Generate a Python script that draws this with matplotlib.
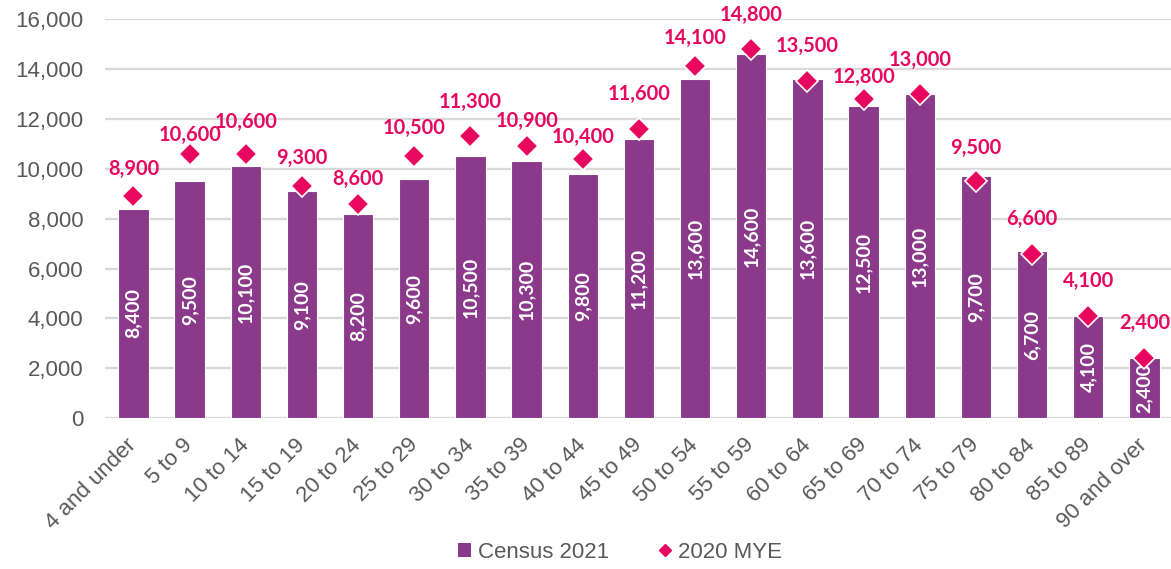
import matplotlib
matplotlib.use("Agg")
import matplotlib.pyplot as plt
from matplotlib.lines import Line2D
from matplotlib.patches import Patch
import numpy as np

categories = ["4 and under", "5 to 9", "10 to 14", "15 to 19", "20 to 24", "25 to 29",
              "30 to 34", "35 to 39", "40 to 44", "45 to 49", "50 to 54", "55 to 59",
              "60 to 64", "65 to 69", "70 to 74", "75 to 79", "80 to 84", "85 to 89",
              "90 and over"]
census_2021 = [8400, 9500, 10100, 9100, 8200, 9600, 10500, 10300, 9800, 11200,
               13600, 14600, 13600, 12500, 13000, 9700, 6700, 4100, 2400]
mye_2020 = [8900, 10600, 10600, 9300, 8600, 10500, 11300, 10900, 10400, 11600,
            14100, 14800, 13500, 12800, 13000, 9500, 6600, 4100, 2400]
yticks = [0, 2000, 4000, 6000, 8000, 10000, 12000, 14000, 16000]

# label offsets above the markers (style, in pixels), as placed in the original
label_offsets_px = [27, 19, 32, 28, 25, 28, 34, 25, 22, 35, 28, 34, 35, 22, 34, 33, 35, 35, 35]

BAR = "#8B3A8B"
PINK = "#E8075F"
GREY = "#595959"

W, H = 1171, 569
fig = plt.figure(figsize=(W / 100, H / 100), dpi=100)
left_px, right_px = 105.4, 1171
ax = fig.add_axes([left_px / W, (H - 418.3) / H, (right_px - left_px) / W, (418.3 - 19) / H])

x = np.arange(len(categories))
ax.bar(x, census_2021, width=0.54, color=BAR, edgecolor="white", linewidth=0.8, zorder=2)
ax.plot(x, mye_2020, linestyle="none", marker="D", markersize=11, color=PINK,
        markeredgecolor="white", markeredgewidth=1.2, zorder=4, clip_on=False)

for xi, v in zip(x, census_2021):
    ax.text(xi, v / 2, f"{v:,}", rotation=90, ha="center", va="center", color="white",
            fontsize=14, fontfamily="Lato", fontweight="bold", zorder=3)

for xi, v, off in zip(x, mye_2020, label_offsets_px):
    ax.annotate(f"{v:,}", (xi, v), xytext=(0, off * 0.72), textcoords="offset points",
                ha="center", va="center", color=PINK, fontsize=14.4,
                fontfamily="Lato", fontweight="bold", zorder=5, annotation_clip=False)

ax.set_xlim(-0.5, -0.5 + (right_px - left_px) / 56.16)
ax.set_ylim(0, 16000)
ax.set_yticks(yticks)
ax.set_yticklabels([f"{t:,}" for t in yticks], fontfamily="Liberation Sans", fontsize=16, color=GREY)
ax.set_xticks(x)
ax.set_xticklabels(categories, rotation=45, ha="right", va="center", rotation_mode="anchor",
                   fontfamily="Liberation Sans", fontsize=16, color=GREY)
ax.tick_params(axis="both", length=0)
ax.tick_params(axis="y", pad=16)
ax.tick_params(axis="x", pad=17)
ax.yaxis.grid(True, color="#D9D9D9", linewidth=1.6, zorder=0)
ax.set_axisbelow(True)
for s in ax.spines.values():
    s.set_visible(False)

handles = [Patch(facecolor=BAR, edgecolor="none"),
           Line2D([], [], linestyle="none", marker="D", markersize=6, color=PINK)]
fig.legend(handles, ["Census 2021", "2020 MYE"], loc="center",
           bbox_to_anchor=(620 / W, 1 - 552 / H), ncol=2, frameon=False,
           prop={"family": "Liberation Sans", "size": 16}, labelcolor=GREY,
           handlelength=0.6, handleheight=0.6, handletextpad=0.3, columnspacing=2.2)

fig.savefig("out.png", dpi=100)
